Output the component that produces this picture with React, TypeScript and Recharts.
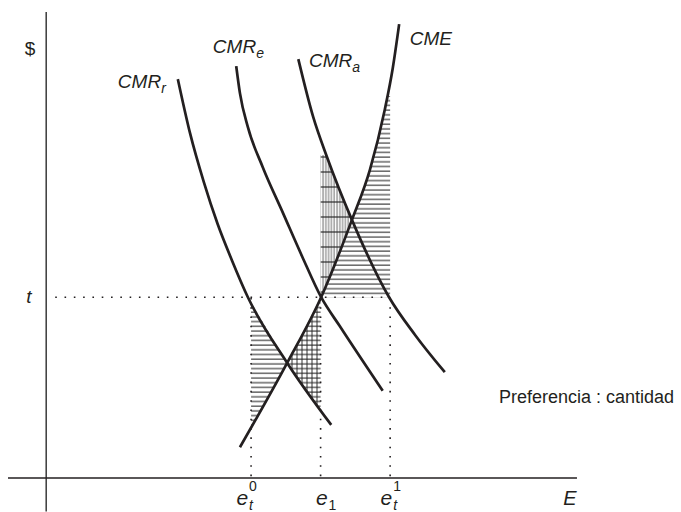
import React from 'react';
import {
  ComposedChart,
  Line,
  Area,
  XAxis,
  YAxis,
  ReferenceLine,
  ReferenceDot,
} from 'recharts';

// curves (u = esfuerzo E, v = $)
const cme = [
  { u: 36.5, v: 6.6 },
  { u: 45.4, v: 24.7 },
  { u: 51.8, v: 38.8 },
  { u: 57.6, v: 55.4 },
  { u: 61.0, v: 66.2 },
  { u: 63.8, v: 79.1 },
  { u: 65.3, v: 88.0 },
  { u: 66.5, v: 97.4 },
];

const cmrR = [
  { u: 24.8, v: 85.6 },
  { u: 27.1, v: 74.0 },
  { u: 29.7, v: 63.5 },
  { u: 32.3, v: 54.5 },
  { u: 35.0, v: 46.7 },
  { u: 38.0, v: 38.8 },
  { u: 45.4, v: 24.7 },
  { u: 53.7, v: 11.4 },
];

const cmrE = [
  { u: 35.8, v: 88.4 },
  { u: 36.5, v: 82.6 },
  { u: 38.0, v: 75.3 },
  { u: 40.8, v: 66.7 },
  { u: 44.6, v: 56.9 },
  { u: 48.2, v: 47.6 },
  { u: 51.8, v: 38.8 },
  { u: 55.3, v: 32.6 },
  { u: 63.4, v: 18.7 },
];

const cmrA = [
  { u: 47.5, v: 89.9 },
  { u: 50.3, v: 77.5 },
  { u: 52.9, v: 68.9 },
  { u: 57.6, v: 55.4 },
  { u: 64.6, v: 38.8 },
  { u: 69.5, v: 30.7 },
  { u: 75.1, v: 22.7 },
];

// shaded areas, [low, high] at each u
const areaLeft = [
  { u: 38.6, r: [10.9, 37.7] },
  { u: 42.0, r: [17.8, 31.2] },
  { u: 45.4, r: [24.7, 24.7] },
];
const areaCross = [
  { u: 45.4, r: [24.7, 24.7] },
  { u: 48.5, r: [19.7, 31.6] },
  { u: 51.7, r: [14.5, 38.8] },
];
const areaUpper = [
  { u: 51.7, r: [38.8, 69.3] },
  { u: 52.7, r: [41.7, 69.3] },
  { u: 54.6, r: [46.8, 63.6] },
  { u: 57.6, r: [55.4, 55.4] },
];
const areaRight = [
  { u: 51.7, r: [38.8, 38.8] },
  { u: 57.6, r: [38.8, 55.4] },
  { u: 61.0, r: [38.8, 66.2] },
  { u: 63.8, r: [38.8, 79.1] },
  { u: 64.3, r: [38.8, 82.0] },
  { u: 64.8, r: [38.8, 82.0] },
];

const tax = 38.8;
const eTicks = [
  { u: 38.6, sup: '0', sub: 't' },
  { u: 51.7, sup: '', sub: '1' },
  { u: 64.8, sup: '1', sub: 't' },
];
const eNudge = [-3, 7, 2];

const curveNames = [
  { name: 'CMR', sub: 'r', u: 13.5, v: 83.7 },
  { name: 'CMR', sub: 'e', u: 31.4, v: 91.2 },
  { name: 'CMR', sub: 'a', u: 49.5, v: 88.2 },
  { name: 'CME', sub: '', u: 68.5, v: 92.9 },
];

const ink = '#231f20';
const font = '"Liberation Sans", Arial, Helvetica, sans-serif';
const dots = { stroke: ink, strokeWidth: 1.6, strokeDasharray: '1.6 7.7' };

export default function App() {
  return (
    <div style={{ position: 'absolute', left: 0, top: 0, background: '#fff' }}>
      <ComposedChart width={681} height={512} margin={{ top: 0, right: 0, bottom: 0, left: 0 }}>
        <defs>
          <pattern id="hatchH" patternUnits="userSpaceOnUse" width={10} height={4.7}>
            <line x1={0} y1={2} x2={10} y2={2} stroke="#2e2e2e" strokeWidth={1.1} />
          </pattern>
          <pattern id="hatchX" patternUnits="userSpaceOnUse" width={5} height={4.7}>
            <line x1={0} y1={2} x2={5} y2={2} stroke="#2e2e2e" strokeWidth={1.1} />
            <line x1={2} y1={0} x2={2} y2={4.7} stroke="#222" strokeWidth={0.9} />
          </pattern>
          <pattern id="hatchV" patternUnits="userSpaceOnUse" width={2.8} height={15}>
            <line x1={1} y1={0} x2={1} y2={15} stroke="#444" strokeWidth={0.8} />
            <line x1={0} y1={7} x2={2.8} y2={7} stroke="#1a1a1a" strokeWidth={1.1} />
          </pattern>
        </defs>
        <XAxis type="number" dataKey="u" domain={[-8.704, 119.6]} hide allowDataOverflow />
        <YAxis type="number" domain={[-7.296, 102.58]} hide allowDataOverflow />

        <Area data={areaLeft} dataKey="r" type="linear" stroke="none" fill="url(#hatchH)" fillOpacity={1} isAnimationActive={false} dot={false} activeDot={false} />
        <Area data={areaCross} dataKey="r" type="linear" stroke="none" fill="url(#hatchX)" fillOpacity={1} isAnimationActive={false} dot={false} activeDot={false} />
        <Area data={areaUpper} dataKey="r" type="linear" stroke="none" fill="url(#hatchV)" fillOpacity={1} isAnimationActive={false} dot={false} activeDot={false} />
        <Area data={areaRight} dataKey="r" type="linear" stroke="none" fill="url(#hatchH)" fillOpacity={1} isAnimationActive={false} dot={false} activeDot={false} />

        {/* axes */}
        <ReferenceLine segment={[{ x: 0, y: -7.2 }, { x: 0, y: 100 }]} stroke="#3a3a3a" strokeWidth={1.5} ifOverflow="visible" />
        <ReferenceLine segment={[{ x: -7.2, y: 0 }, { x: 100, y: 0 }]} stroke={ink} strokeWidth={1.4} ifOverflow="visible" />

        {/* dotted guides */}
        <ReferenceLine segment={[{ x: 1.7, y: tax }, { x: 64.8, y: tax }]} {...dots} />
        {eTicks.map((t) => (
          <ReferenceLine key={'d' + t.u} segment={[{ x: t.u, y: 0.4 }, { x: t.u, y: tax }]} {...dots} />
        ))}

        <Line data={cmrR} dataKey="v" type="monotone" stroke={ink} strokeWidth={2.7} dot={false} activeDot={false} isAnimationActive={false} />
        <Line data={cmrE} dataKey="v" type="monotone" stroke={ink} strokeWidth={2.7} dot={false} activeDot={false} isAnimationActive={false} />
        <Line data={cmrA} dataKey="v" type="monotone" stroke={ink} strokeWidth={2.7} dot={false} activeDot={false} isAnimationActive={false} />
        <Line data={cme} dataKey="v" type="monotone" stroke={ink} strokeWidth={2.7} dot={false} activeDot={false} isAnimationActive={false} />

        {curveNames.map((c) => (
          <ReferenceDot
            key={c.name + c.sub}
            x={c.u}
            y={c.v}
            r={0}
            shape={(p: any) => (
              <text x={p.cx} y={p.cy} fontFamily={font} fontStyle="italic" fontSize={19} fill={ink}>
                {c.name}
                {c.sub && (
                  <tspan dy={5} fontSize={14}>
                    {c.sub}
                  </tspan>
                )}
              </text>
            )}
          />
        ))}

        {eTicks.map((t, i) => (
          <ReferenceDot
            key={'e' + t.u}
            x={t.u}
            y={-5.8}
            r={0}
            shape={(p: any) => {
              const end = p.cx + eNudge[i];
              return (
                <g fontFamily={font} fontStyle="italic" fill={ink}>
                  <text x={end} y={p.cy} fontSize={21} textAnchor="end">e</text>
                  {t.sup && <text x={end + 1} y={p.cy - 14} fontSize={14} fontStyle="normal">{t.sup}</text>}
                  <text x={end + 1} y={p.cy + 5} fontSize={14} fontStyle={t.sub === 't' ? 'italic' : 'normal'}>{t.sub}</text>
                </g>
              );
            }}
          />
        ))}

        <ReferenceDot x={97.4} y={-5.8} r={0} shape={(p: any) => (
          <text x={p.cx} y={p.cy} fontFamily={font} fontStyle="italic" fontSize={20} fill={ink}>E</text>
        )} />
        <ReferenceDot x={-3.05} y={90.8} r={0} shape={(p: any) => (
          <text x={p.cx} y={p.cy} fontFamily={font} fontSize={19} textAnchor="middle" fill={ink}>$</text>
        )} />
        <ReferenceDot x={-3.24} y={37.6} r={0} shape={(p: any) => (
          <text x={p.cx} y={p.cy} fontFamily={font} fontStyle="italic" fontSize={19} textAnchor="middle" fill={ink}>t</text>
        )} />
        <ReferenceDot x={85.3} y={16.1} r={0} shape={(p: any) => (
          <text x={p.cx} y={p.cy} fontFamily={font} fontSize={18} fill={ink}>Preferencia : cantidad</text>
        )} />
      </ComposedChart>
    </div>
  );
}
